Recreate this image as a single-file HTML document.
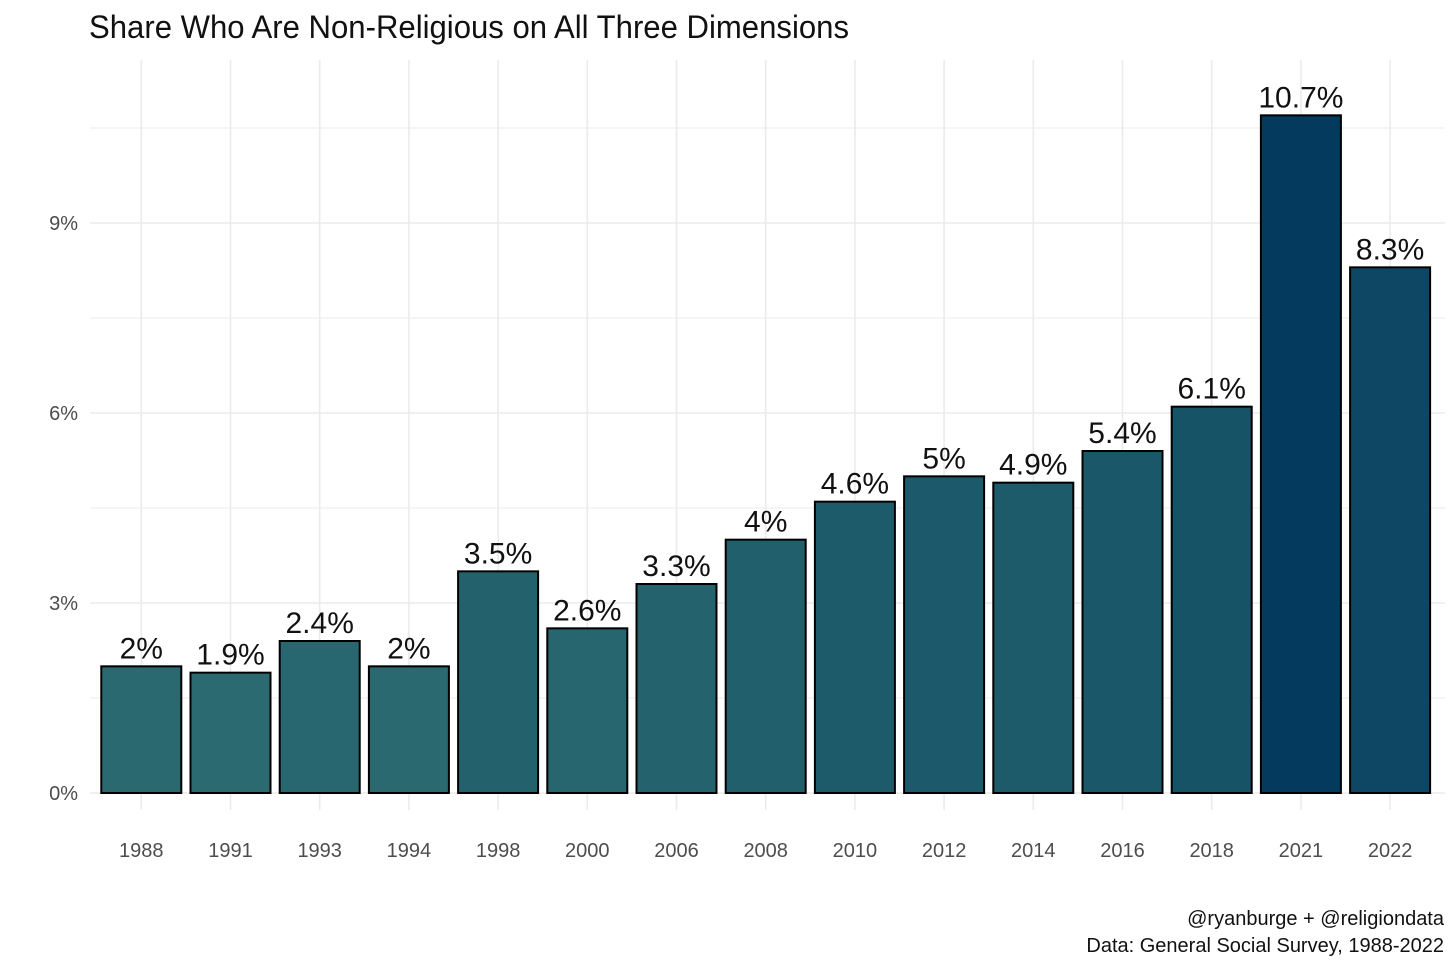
<!DOCTYPE html>
<html><head><meta charset="utf-8"><style>
body{margin:0;background:#fff;}
svg{display:block;font-family:"Liberation Sans",sans-serif;}
</style></head><body>
<svg id="chart" width="1456" height="971" viewBox="0 0 1456 971">
<text x="89" y="38" font-size="32" fill="#111" textLength="760" lengthAdjust="spacingAndGlyphs">Share Who Are Non-Religious on All Three Dimensions</text>
<g id="gridlayer"></g><g id="barlayer"></g><g id="labellayer"></g><g id="xticklayer"></g><g id="yticklayer"></g>
<text x="1444" y="925" font-size="20" fill="#111" text-anchor="end">@ryanburge + @religiondata</text>
<text x="1444" y="952" font-size="20" fill="#111" text-anchor="end">Data: General Social Survey, 1988-2022</text>
</svg>
<script>
const years = ["1988","1991","1993","1994","1998","2000","2006","2008","2010","2012","2014","2016","2018","2021","2022"];
const values = [2,1.9,2.4,2,3.5,2.6,3.3,4,4.6,5,4.9,5.4,6.1,10.7,8.3];
const valueLabels = ["2%","1.9%","2.4%","2%","3.5%","2.6%","3.3%","4%","4.6%","5%","4.9%","5.4%","6.1%","10.7%","8.3%"];
const yTicks = [0,3,6,9];
const yTickLabels = ["0%","3%","6%","9%"];
const yMinor = [1.5,4.5,7.5,10.5];

var SVGNS = "http://www.w3.org/2000/svg";
var Y0 = 793, PXPER = 63.333, X0 = 141.3, STEP = 89.2, BW = 80;
var PL = 90, PR = 1445, PT = 60;
function yScale(v) { return Y0 - v * PXPER; }
function xScale(i) { return X0 + i * STEP; }
function mk(tag, attrs, parentId) {
  var e = document.createElementNS(SVGNS, tag);
  for (var k in attrs) { e.setAttribute(k, String(attrs[k])); }
  document.getElementById(parentId).appendChild(e);
  return e;
}
var allY = yTicks.concat(yMinor);
for (var a = 0; a < allY.length; a++) {
  var gv = allY[a];
  var major = yTicks.indexOf(gv) >= 0;
  var gl = mk('line', {x1: PL, x2: PR, y1: yScale(gv), y2: yScale(gv), stroke: '#ebebeb', 'stroke-width': major ? 1.6 : 1}, 'gridlayer');
  
  
}
for (var b = 0; b < years.length; b++) {
  var vl = mk('line', {x1: xScale(b), x2: xScale(b), y1: PT, y2: 810, stroke: '#ebebeb', 'stroke-width': 1.6}, 'gridlayer');
  
  
}
var vmin = Math.min.apply(null, values);
var vmax = Math.max.apply(null, values);
var c1 = [42,106,112], c2 = [3,58,94];
function colorFor(v) {
  var t = (v - vmin) / (vmax - vmin);
  var r = Math.round(c1[0] + (c2[0] - c1[0]) * t);
  var g = Math.round(c1[1] + (c2[1] - c1[1]) * t);
  var bl = Math.round(c1[2] + (c2[2] - c1[2]) * t);
  return 'rgb(' + r + ',' + g + ',' + bl + ')';
}
for (var i = 0; i < values.length; i++) {
  var v = values[i];
  var rect = mk('rect', {x: xScale(i) - BW / 2, y: yScale(v), width: BW, height: Y0 - yScale(v), fill: colorFor(v), stroke: '#000', 'stroke-width': 2}, 'barlayer');
  
  
  var lab = mk('text', {x: xScale(i), y: yScale(v) - 8, 'font-size': 30, 'text-anchor': 'middle', fill: '#111'}, 'labellayer');
  lab.textContent = valueLabels[i];
  
  
  var xt = mk('text', {x: xScale(i), y: 857, 'font-size': 20, 'text-anchor': 'middle', fill: '#4d4d4d'}, 'xticklayer');
  xt.textContent = years[i];
  
  
}
for (var j = 0; j < yTicks.length; j++) {
  var yt = mk('text', {x: 78, y: yScale(yTicks[j]) + 7, 'font-size': 20, 'text-anchor': 'end', fill: '#4d4d4d'}, 'yticklayer');
  yt.textContent = yTickLabels[j];
  
  
}
</script>
</body></html>
